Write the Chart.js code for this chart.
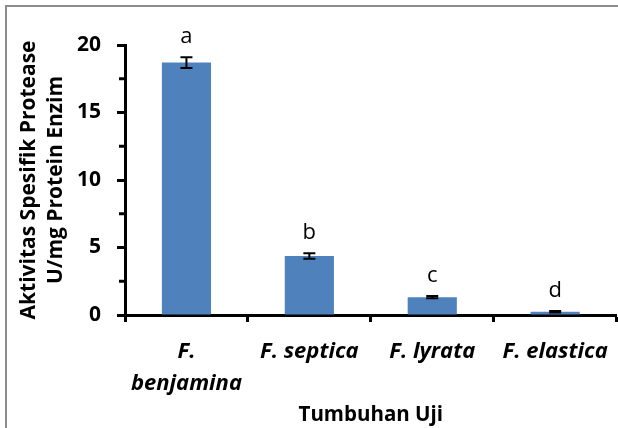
<!DOCTYPE html>
<html>
<head>
  <title>Aktivitas Spesifik Protease</title>
  <script src="https://cdn.jsdelivr.net/npm/chart.js"></script>
  <style>
    html, body { margin: 0; padding: 0; overflow: hidden; background: #fff; }
    #wrap { width: 622px; height: 428px; position: relative; }
  </style>
</head>
<body>
  <div id="wrap">
    <canvas id="canvas"></canvas>
  </div>
  <script>
    var categories = [['F.', 'benjamina'], 'F. septica', 'F. lyrata', 'F. elastica'];
    var activity = [18.7, 4.37, 1.32, 0.24];
    var errors = [0.4, 0.2, 0.08, 0.05];
    var letters = ['a', 'b', 'c', 'd'];
    var yTicks = [0, 5, 10, 15, 20];

    var fontFamily = '"Open Sans", Lato, sans-serif';

    // error bars + significance letters
    var errorBarPlugin = {
      id: 'errorBars',
      afterDatasetsDraw: function(chart) {
        var ctx = chart.ctx;
        var meta = chart.getDatasetMeta(0);
        var y = chart.scales.y;
        ctx.save();
        ctx.strokeStyle = '#000';
        ctx.lineWidth = 2;
        meta.data.forEach(function(bar, i) {
          var top = y.getPixelForValue(activity[i] + errors[i]);
          var bot = y.getPixelForValue(activity[i] - errors[i]);
          var x = bar.x;
          ctx.beginPath();
          ctx.moveTo(x, top); ctx.lineTo(x, bot);
          ctx.moveTo(x - 6, top); ctx.lineTo(x + 6, top);
          ctx.moveTo(x - 6, bot); ctx.lineTo(x + 6, bot);
          ctx.stroke();
          ctx.fillStyle = '#000';
          ctx.font = '22px ' + fontFamily;
          ctx.textAlign = 'center';
          ctx.textBaseline = 'alphabetic';
          ctx.fillText(letters[i], x, top - 14);
        });
        ctx.restore();
      }
    };

    // outer frame and short minor ticks on the y axis
    var framePlugin = {
      id: 'frame',
      beforeDraw: function(chart) {
        var ctx = chart.ctx;
        ctx.save();
        ctx.fillStyle = '#fff';
        ctx.fillRect(0, 0, chart.width, chart.height);
        ctx.strokeStyle = '#8c8c8c';
        ctx.lineWidth = 2;
        ctx.strokeRect(6, 6, 800, 600);
        ctx.restore();
      },
      afterDraw: function(chart) {
        var ctx = chart.ctx;
        var y = chart.scales.y;
        ctx.save();
        ctx.strokeStyle = '#000';
        ctx.lineWidth = 3;
        [2.5, 7.5, 12.5, 17.5].forEach(function(v) {
          var py = y.getPixelForValue(v);
          ctx.beginPath();
          ctx.moveTo(y.right - 6, py);
          ctx.lineTo(y.right, py);
          ctx.stroke();
        });
        ctx.restore();
      }
    };

    var ctx = document.getElementById('canvas').getContext('2d');
    var chart = new Chart(ctx, {
      type: 'bar',
      data: {
        labels: categories,
        datasets: [{
          data: activity,
          backgroundColor: '#4F81BD',
          borderWidth: 0,
          barPercentage: 0.4,
          categoryPercentage: 1.0
        }]
      },
      options: {
        responsive: true,
        maintainAspectRatio: false,
        animation: false,
        layout: { padding: { top: 45, right: 2, bottom: 0, left: 0 } },
        plugins: {
          legend: { display: false },
          tooltip: { enabled: false }
        },
        scales: {
          x: {
            grid: {
              display: true,
              drawOnChartArea: false,
              drawTicks: true,
              tickLength: 7,
              tickWidth: 3,
              tickColor: '#000'
            },
            border: { display: true, color: '#000', width: 3 },
            ticks: {
              color: '#000',
              padding: 14,
              maxRotation: 0,
              autoSkip: false,
              font: { family: fontFamily, size: 22, weight: 'bold', style: 'italic', lineHeight: 1.45 }
            },
            title: {
              display: true,
              text: 'Tumbuhan Uji',
              color: '#000',
              padding: { top: 0, bottom: 1 },
              font: { family: fontFamily, size: 20.5, weight: 'bold' }
            },
            afterFit: function(scale) { scale.height = 113; }
          },
          y: {
            min: 0,
            max: 20,
            grid: {
              display: true,
              drawOnChartArea: false,
              drawTicks: true,
              tickLength: 8,
              tickWidth: 3,
              tickColor: function(c) {
                return yTicks.indexOf(c.tick.value) >= 0 ? '#000' : 'rgba(0,0,0,0)';
              }
            },
            border: { display: true, color: '#000', width: 3 },
            ticks: {
              stepSize: 2.5,
              color: '#000',
              padding: 16,
              font: { family: fontFamily, size: 21, weight: 'bold' },
              callback: function(v) { return yTicks.indexOf(v) >= 0 ? v : ''; }
            },
            title: {
              display: true,
              text: ['Aktivitas Spesifik Protease', 'U/mg Protein Enzim'],
              color: '#000',
              padding: { top: 15, bottom: 0 },
              font: { family: fontFamily, size: 21, weight: 'bold', lineHeight: 1.3 }
            },
            afterFit: function(scale) { scale.width = 125; }
          }
        }
      },
      plugins: [errorBarPlugin, framePlugin]
    });
  </script>
</body>
</html>
